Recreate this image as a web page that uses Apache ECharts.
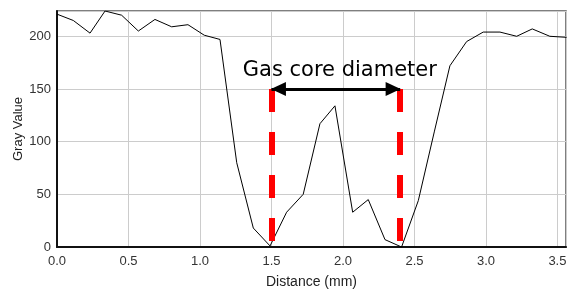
<!DOCTYPE html>
<html>
<head>
<meta charset="utf-8">
<script src="https://cdn.jsdelivr.net/npm/echarts@6/dist/echarts.min.js"></script>
<style>html,body{margin:0;padding:0;background:#fff}#c{width:569px;height:290px}</style>
</head>
<body>
<div id="c"></div>
<script>
// Distance (mm) of each profile sample
var distance = [0, 0.114, 0.231, 0.336, 0.452, 0.569, 0.685, 0.802, 0.916, 1.03, 1.14, 1.257, 1.373, 1.49, 1.606, 1.722, 1.839, 1.944, 2.068, 2.177, 2.294, 2.41, 2.527, 2.64, 2.748, 2.865, 2.981, 3.098, 3.215, 3.324, 3.447, 3.564];
// Gray value of each sample
var grayValue = [221, 215, 203, 224, 220, 205, 216, 209, 211, 201, 197, 80, 18, 1, 33, 50, 117, 134, 33, 45, 7, 0, 44, 110, 172, 195, 204, 204, 200, 207, 200, 199];
// Annotation: gas core edges (mm) and arrow height (gray value)
var coreEdges = [1.5, 2.4];
var arrowLevel = 150;
var annotationText = 'Gas core diameter';
var xMax = 3.56, yMax = 224;

var chart = echarts.init(document.getElementById('c'));
var pts = distance.map(function (d, i) { return [d, grayValue[i]]; });

var redStyle = { color: '#ff0000', width: 6, type: [23, 20] };
var option = {
  animation: false,
  backgroundColor: '#fff',
  grid: { left: 57, top: 11, right: 3, bottom: 43, outerBoundsMode: 'none', containLabel: false,
    show: true, borderColor: '#555', borderWidth: 1.5, backgroundColor: '#fff' },
  xAxis: {
    type: 'value', min: 0, max: xMax, interval: 0.5,
    name: 'Distance (mm)', nameLocation: 'middle', nameGap: 28,
    nameTextStyle: { fontFamily: 'Liberation Sans', fontSize: 14, color: '#222' },
    axisLine: { show: true, onZero: false, lineStyle: { color: '#111', width: 2 } },
    axisTick: { show: false },
    axisLabel: { showMaxLabel: false, fontFamily: 'Liberation Sans', fontSize: 13, color: '#333', margin: 8,
      formatter: function (v) { return v.toFixed(1); } },
    splitLine: { show: true, lineStyle: { color: '#cccccc', width: 1 } }
  },
  yAxis: {
    type: 'value', min: 0, max: yMax, interval: 50,
    name: 'Gray Value', nameLocation: 'middle', nameGap: 32, nameMoveOverlap: false,
    nameTextStyle: { fontFamily: 'Liberation Sans', fontSize: 13, color: '#222' },
    axisLine: { show: true, lineStyle: { color: '#111', width: 2 } },
    axisTick: { show: false },
    axisLabel: { showMaxLabel: false, fontFamily: 'Liberation Sans', fontSize: 13, color: '#333', margin: 6 },
    splitLine: { show: true, lineStyle: { color: '#cccccc', width: 1 } }
  },
  series: [{
    type: 'line', data: pts, symbol: 'none',
    lineStyle: { color: '#000', width: 1 },
    markLine: {
      silent: true, symbol: 'none', animation: false,
      data: [
        [{ coord: [coreEdges[0], arrowLevel], lineStyle: redStyle, label: { show: false } }, { coord: [coreEdges[0], 0] }],
        [{ coord: [coreEdges[1], arrowLevel], lineStyle: redStyle, label: { show: false } }, { coord: [coreEdges[1], 0] }],
        [{ coord: [coreEdges[0], arrowLevel], symbol: 'triangle', symbolSize: [14, 15], symbolOffset: [0, 7],
           lineStyle: { color: '#000', width: 3, type: 'solid' },
           label: { show: true, position: 'middle', formatter: annotationText, distance: 8, padding: [0, 0, 0, 8],
             color: '#000', fontSize: 21, fontFamily: 'DejaVu Sans' } },
         { coord: [coreEdges[1], arrowLevel], symbol: 'triangle', symbolSize: [14, 15], symbolOffset: [0, 7] }]
      ]
    }
  }]
};
chart.setOption(option);
</script>
</body>
</html>
